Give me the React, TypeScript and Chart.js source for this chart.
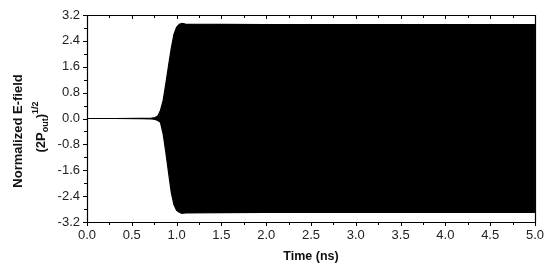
import React, { useEffect, useRef } from "react";
import { Chart, registerables } from "chart.js";

Chart.register(...registerables);

// Envelope of the rapidly oscillating normalized E-field
const timeNs = [0, 0.3, 0.6, 0.72, 0.76, 0.79, 0.82, 0.85, 0.88, 0.91, 0.94, 0.97, 1.0, 1.03, 1.06, 1.1, 1.5, 2.0, 2.5, 3.0, 3.5, 4.0, 4.5, 5.0];
const upperField = [0, 0, 0.005, 0.01, 0.03, 0.08, 0.25, 0.56, 1.08, 1.63, 2.16, 2.6, 2.82, 2.91, 2.94, 2.92, 2.91, 2.9, 2.9, 2.9, 2.9, 2.9, 2.9, 2.9];
const lowerField = [0, 0, -0.005, -0.01, -0.03, -0.06, -0.12, -0.48, -1.05, -1.67, -2.28, -2.66, -2.84, -2.9, -2.93, -2.92, -2.91, -2.9, -2.9, -2.9, -2.9, -2.9, -2.9, -2.9];

const xMajorTicks = [0, 0.5, 1.0, 1.5, 2.0, 2.5, 3.0, 3.5, 4.0, 4.5, 5.0];
const xMinorTicks = [0.25, 0.75, 1.25, 1.75, 2.25, 2.75, 3.25, 3.75, 4.25, 4.75];
const yMajorTicks = [-3.2, -2.4, -1.6, -0.8, 0, 0.8, 1.6, 2.4, 3.2];
const yMinorTicks = [-2.8, -2.0, -1.2, -0.4, 0.4, 1.2, 2.0, 2.8];

const FONT = "'Liberation Sans', Arial, Helvetica, sans-serif";

const framePlugin = {
  id: "originFrame",
  afterDraw(chart: any) {
    const { ctx, chartArea, scales } = chart;
    const { left, right, top, bottom } = chartArea;
    const xs = scales.x;
    const ys = scales.y;
    ctx.save();
    ctx.strokeStyle = "#000";
    ctx.lineWidth = 1.2;
    ctx.beginPath();
    ctx.rect(Math.round(left) + 0.5, Math.round(top) + 0.5, Math.round(right - left), Math.round(bottom - top));
    ctx.stroke();
    ctx.lineWidth = 1;
    ctx.beginPath();
    const drawX = (vals: number[], len: number) => {
      vals.forEach((v) => {
        const px = Math.round(xs.getPixelForValue(v)) + 0.5;
        ctx.moveTo(px, bottom);
        ctx.lineTo(px, bottom + len);
        ctx.moveTo(px, top);
        ctx.lineTo(px, top + len);
      });
    };
    const drawY = (vals: number[], len: number) => {
      vals.forEach((v) => {
        const py = Math.round(ys.getPixelForValue(v)) + 0.5;
        ctx.moveTo(left - len, py);
        ctx.lineTo(left, py);
      });
    };
    drawX(xMajorTicks, 4);
    drawX(xMinorTicks, 3);
    drawY(yMajorTicks, 4);
    drawY(yMinorTicks, 3);
    ctx.stroke();

    // Y axis title (rotated, two lines)
    ctx.fillStyle = "#111";
    ctx.save();
    ctx.translate(21.5, 131);
    ctx.rotate(-Math.PI / 2);
    ctx.font = `bold 13px ${FONT}`;
    ctx.textAlign = "center";
    ctx.textBaseline = "alphabetic";
    ctx.fillText("Normalized E-field", 0, 0);
    ctx.restore();

    ctx.save();
    ctx.translate(44.5, 127);
    ctx.rotate(-Math.PI / 2);
    ctx.textAlign = "left";
    ctx.textBaseline = "alphabetic";
    const mainFont = `bold 13px ${FONT}`;
    const smallFont = `bold 9px ${FONT}`;
    const parts = [
      { t: "(2P", f: mainFont, dy: 0 },
      { t: "out", f: smallFont, dy: 3 },
      { t: ")", f: mainFont, dy: 0 },
      { t: "1/2", f: smallFont, dy: -7 },
    ];
    let total = 0;
    parts.forEach((p) => {
      ctx.font = p.f;
      total += ctx.measureText(p.t).width;
    });
    let cx = -total / 2;
    parts.forEach((p) => {
      ctx.font = p.f;
      ctx.fillText(p.t, cx, p.dy);
      cx += ctx.measureText(p.t).width;
    });
    ctx.restore();
    ctx.restore();
  },
};

export default function App() {
  const ref = useRef<HTMLCanvasElement>(null);
  useEffect(() => {
    if (!ref.current) return;
    const upper = timeNs.map((t, i) => ({ x: t, y: upperField[i] }));
    const lower = timeNs.map((t, i) => ({ x: t, y: lowerField[i] }));
    const fmt = (v: any) => {
      const n = Number(v);
      return Math.abs(n) < 1e-9 ? "0.0" : n.toFixed(1);
    };
    const chart = new Chart(ref.current, {
      type: "line",
      data: {
        datasets: [
          {
            data: upper,
            borderColor: "#000",
            backgroundColor: "#000",
            borderWidth: 1.2,
            pointRadius: 0,
            fill: "+1",
            tension: 0,
          },
          {
            data: lower,
            borderColor: "#000",
            backgroundColor: "#000",
            borderWidth: 1.2,
            pointRadius: 0,
            fill: false,
            tension: 0,
          },
        ],
      },
      options: {
        responsive: false,
        animation: false,
        devicePixelRatio: 1,
        layout: { padding: { top: 15, right: 15, left: 0, bottom: 0 } },
        plugins: {
          legend: { display: false },
          tooltip: { enabled: false },
          title: { display: false },
        },
        scales: {
          x: {
            type: "linear",
            min: 0,
            max: 5,
            position: "bottom",
            grid: { display: false, drawTicks: false },
            border: { display: false },
            ticks: {
              stepSize: 0.5,
              callback: fmt,
              padding: 6,
              color: "#222",
              font: { family: FONT, size: 13 },
              maxRotation: 0,
              autoSkip: false,
            },
            title: {
              display: true,
              text: "Time (ns)",
              color: "#111",
              font: { family: FONT, size: 12.5, weight: "bold" },
              padding: { top: 4, bottom: 6 },
            },
            afterFit: (s: any) => {
              s.height = 48;
            },
          },
          y: {
            type: "linear",
            min: -3.2,
            max: 3.2,
            grid: { display: false, drawTicks: false },
            border: { display: false },
            ticks: {
              stepSize: 0.8,
              callback: fmt,
              padding: 7,
              color: "#222",
              font: { family: FONT, size: 13 },
              autoSkip: false,
            },
            afterFit: (s: any) => {
              s.width = 87;
            },
          },
        },
      },
      plugins: [framePlugin],
    } as any);
    return () => chart.destroy();
  }, []);
  return (
    <div style={{ position: "fixed", left: 0, top: 0, width: 550, height: 270, background: "#fff" }}>
      <canvas ref={ref} width={550} height={270} style={{ width: 550, height: 270, display: "block" }} />
    </div>
  );
}
